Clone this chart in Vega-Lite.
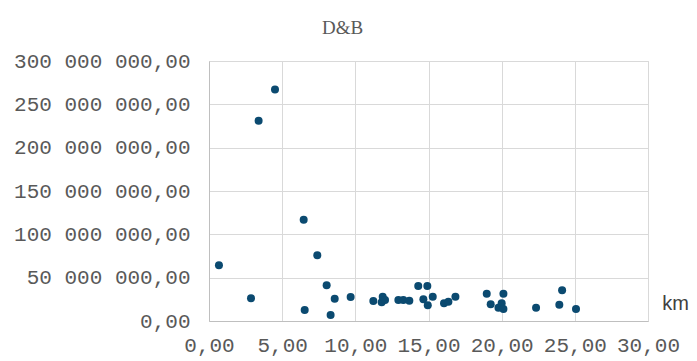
{
  "$schema": "https://vega.github.io/schema/vega-lite/v6.json",
  "autosize": "none",
  "width": 439,
  "height": 260,
  "padding": {"left": 209, "top": 61, "right": 49, "bottom": 40},
  "background": "white",
  "title": {
    "text": "D&B",
    "font": "Liberation Serif",
    "fontSize": 19,
    "fontWeight": "normal",
    "color": "#595959",
    "anchor": "start",
    "frame": "group",
    "dx": 113,
    "dy": 3,
    "offset": 0,
    "baseline": "alphabetic"
  },
  "config": {
    "locale": {
      "number": {"decimal": ",", "thousands": " ", "grouping": [3], "currency": ["", ""]}
    },
    "view": {"stroke": "#d9d9d9", "strokeWidth": 1}
  },
  "data": {
    "values": [
      {"km": 0.68, "value": 64.2},
      {"km": 2.87, "value": 26.2},
      {"km": 3.39, "value": 231},
      {"km": 4.51, "value": 267},
      {"km": 6.47, "value": 116.9},
      {"km": 6.54, "value": 12.7},
      {"km": 7.4, "value": 76},
      {"km": 8.04, "value": 41.2},
      {"km": 8.31, "value": 6.9},
      {"km": 8.59, "value": 25.7},
      {"km": 9.68, "value": 27.7},
      {"km": 11.23, "value": 23.2},
      {"km": 11.8, "value": 21.6},
      {"km": 11.87, "value": 28},
      {"km": 12.03, "value": 24.2},
      {"km": 12.94, "value": 24.2},
      {"km": 13.28, "value": 24.2},
      {"km": 13.69, "value": 23.4},
      {"km": 14.3, "value": 40.4},
      {"km": 14.92, "value": 40.4},
      {"km": 14.65, "value": 25},
      {"km": 15.29, "value": 28},
      {"km": 14.95, "value": 18.1},
      {"km": 16.06, "value": 20.4},
      {"km": 16.36, "value": 22.3},
      {"km": 16.84, "value": 28},
      {"km": 18.98, "value": 31.5},
      {"km": 19.25, "value": 19.2},
      {"km": 19.78, "value": 15.3},
      {"km": 20.12, "value": 31.5},
      {"km": 20.0, "value": 20.4},
      {"km": 20.12, "value": 13.8},
      {"km": 22.35, "value": 15.3},
      {"km": 24.13, "value": 35.4},
      {"km": 23.94, "value": 18.8},
      {"km": 25.08, "value": 13.8}
    ]
  },
  "transform": [{"calculate": "datum.value * 1000000", "as": "amount"}],
  "mark": {"type": "circle", "size": 64, "opacity": 1, "color": "#0b4a70"},
  "encoding": {
    "x": {
      "field": "km",
      "type": "quantitative",
      "scale": {"domain": [0, 30], "nice": false, "zero": true},
      "axis": {
        "values": [0, 5, 10, 15, 20, 25, 30],
        "format": ",.2f",
        "title": "km",
        "titleFont": "Liberation Sans",
        "titleFontSize": 20,
        "titleFontWeight": "normal",
        "titleColor": "#404040",
        "titleX": 466,
        "titleY": -18,
        "titleAlign": "center",
        "titleBaseline": "middle",
        "labelFont": "Liberation Mono",
        "labelFontSize": 21,
        "labelColor": "#595959",
        "labelPadding": 13,
        "ticks": false,
        "domainColor": "#bfbfbf",
        "gridColor": "#d9d9d9",
        "labelFlush": false,
        "labelOverlap": false
      }
    },
    "y": {
      "field": "amount",
      "type": "quantitative",
      "scale": {"domain": [0, 300000000], "nice": false},
      "axis": {
        "values": [0, 50000000, 100000000, 150000000, 200000000, 250000000, 300000000],
        "format": ",.2f",
        "title": null,
        "labelFont": "Liberation Mono",
        "labelFontSize": 21,
        "labelColor": "#595959",
        "labelPadding": 19,
        "ticks": false,
        "domainColor": "#bfbfbf",
        "gridColor": "#d9d9d9",
        "labelOverlap": false
      }
    }
  }
}
